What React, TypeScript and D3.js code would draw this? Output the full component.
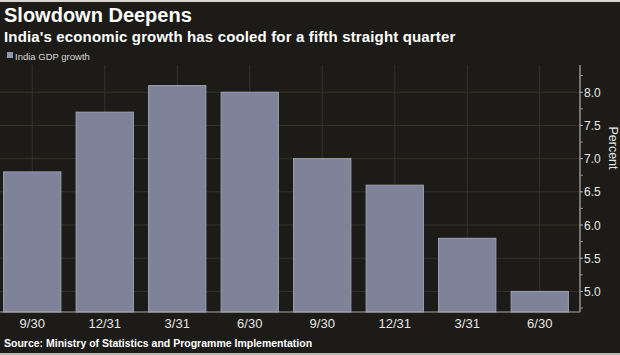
import React from "react";
import * as d3 from "d3";

const categories = ["9/30", "12/31", "3/31", "6/30", "9/30", "12/31", "3/31", "6/30"];
const gdpGrowth = [6.8, 7.7, 8.1, 8.0, 7.0, 6.6, 5.8, 5.0];
const yTicks = [5.0, 5.5, 6.0, 6.5, 7.0, 7.5, 8.0];
const yMinorTicks = [4.75, 5.25, 5.75, 6.25, 6.75, 7.25, 7.75, 8.25];

const W = 620;
const H = 355;
const plotTop = 65;
const plotBottom = 312;
const axisX = 580;

export default function App() {
  const x = d3
    .scaleBand<number>()
    .domain(d3.range(categories.length))
    .range([-4, 576])
    .paddingInner(0.21)
    .paddingOuter(0.105);
  const y = d3.scaleLinear().domain([4.69, 8.41]).range([plotBottom, plotTop]);
  const bg = "#1c1b17";
  const grid = "#34322c";
  const txt = "#e6e6e6";
  const font = "'Liberation Sans', Arial, sans-serif";

  return (
    <svg
      width={W}
      height={H}
      style={{ position: "fixed", left: 0, top: 0, display: "block" }}
      fontFamily={font}
    >
      <rect x={0} y={0} width={W} height={H} fill={bg} />
      <rect x={0} y={0} width={W} height={2} fill="#d6d6d0" />
      <rect x={0} y={H - 2} width={W} height={2} fill="#b8b8b2" />

      <text x={4} y={22} fill="#ffffff" fontSize={20} fontWeight="bold">
        Slowdown Deepens
      </text>
      <text x={4} y={42} fill="#ffffff" fontSize={15} fontWeight="bold" letterSpacing={0.15}>
        India's economic growth has cooled for a fifth straight quarter
      </text>

      <rect x={7} y={52} width={6} height={6} fill="#9095ad" />
      <text x={15} y={60} fill="#d8d8d8" fontSize={9.5}>
        India GDP growth
      </text>

      {/* gridlines */}
      {yTicks.map((t) => (
        <line key={"h" + t} x1={0} x2={axisX} y1={y(t)} y2={y(t)} stroke={grid} strokeWidth={1} />
      ))}
      {categories.map((_, i) => {
        const cx = (x(i) as number) + x.bandwidth() / 2;
        return (
          <line key={"v" + i} x1={cx} x2={cx} y1={plotTop} y2={plotBottom} stroke={grid} strokeWidth={1} />
        );
      })}

      {/* bars */}
      {gdpGrowth.map((v, i) => (
        <rect
          key={"b" + i}
          x={x(i) as number}
          y={y(v)}
          width={x.bandwidth()}
          height={plotBottom - y(v)}
          fill="#7e839a"
          stroke="#9ca1b6"
          strokeWidth={1}
        />
      ))}

      {/* axes */}
      <line x1={0} x2={axisX} y1={plotBottom} y2={plotBottom} stroke="#a8a8a8" strokeWidth={1.2} />
      <line x1={axisX} x2={axisX} y1={plotTop} y2={plotBottom} stroke="#b0b0b0" strokeWidth={1.2} />
      {yTicks.map((t) => (
        <g key={"yt" + t}>
          <line x1={axisX} x2={axisX + 3} y1={y(t)} y2={y(t)} stroke="#b0b0b0" />
          <text x={axisX + 4} y={y(t) + 4.5} fill={txt} fontSize={12}>
            {t.toFixed(1)}
          </text>
        </g>
      ))}
      {yMinorTicks.map((t) => (
        <line key={"ym" + t} x1={axisX} x2={axisX + 3} y1={y(t)} y2={y(t)} stroke="#909090" />
      ))}
      <text
        transform={`translate(${609},${148}) rotate(90)`}
        textAnchor="middle"
        fill={txt}
        fontSize={12.5}
      >
        Percent
      </text>

      {categories.map((c, i) => (
        <text
          key={"xl" + i}
          x={(x(i) as number) + x.bandwidth() / 2}
          y={328}
          textAnchor="middle"
          fill={txt}
          fontSize={13}
        >
          {c}
        </text>
      ))}

      <text x={4} y={347} fill="#ffffff" fontSize={10.5} fontWeight="bold">
        Source: Ministry of Statistics and Programme Implementation
      </text>
    </svg>
  );
}
